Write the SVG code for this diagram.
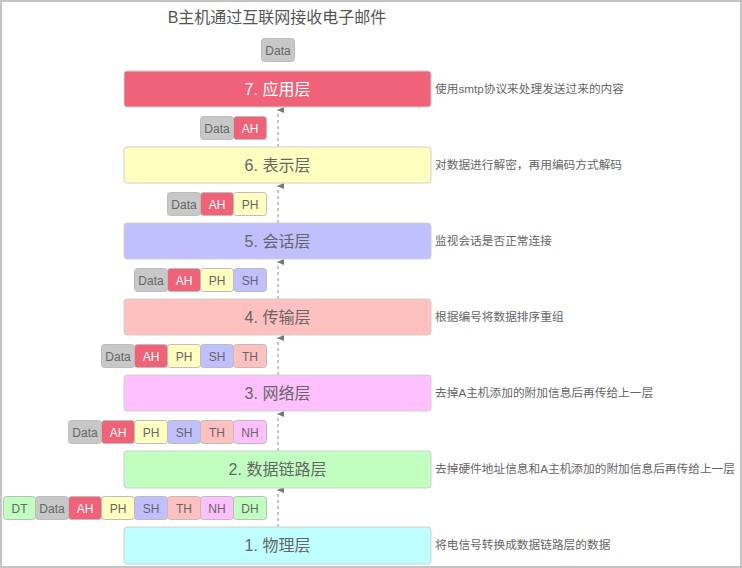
<svg xmlns="http://www.w3.org/2000/svg" width="742" height="568" viewBox="0 0 742 568">
<defs>
<marker id="ah" markerWidth="6" markerHeight="7" refX="3" refY="1" orient="auto-start-reverse" markerUnits="userSpaceOnUse" viewBox="0 0 6 7">
<path d="M0,7 L3,0 L6,7 Z" fill="#777"/>
</marker>
<style>
text{font-family:"Liberation Sans","Noto Sans CJK SC",sans-serif;}
.title{font-size:16px;fill:#555;text-anchor:middle;}
.layer{stroke:#cfcfcf;stroke-width:1;}
.lt{font-size:16px;fill:#666;text-anchor:middle;}
.lw{fill:#fff;}
.desc{font-size:11.7px;fill:#666;}
.chip{stroke:#bdbdbd;stroke-width:1;}
.ct{font-size:12px;fill:#666;text-anchor:middle;}
.cw{fill:#fff;}
.conn{stroke:#888;stroke-width:1;stroke-dasharray:3,3;fill:none;}
.gray{fill:#c8c8c8;}
.red{fill:#f06278;}
.yel{fill:#ffffc0;}
.blu{fill:#c0c0ff;}
.pnk{fill:#ffc0c0;}
.mag{fill:#ffc0ff;}
.grn{fill:#c0ffc0;}
.cyn{fill:#c0ffff;}
</style>
</defs>
<rect x="1" y="1" width="740" height="566" fill="#fff" stroke="#c4c4c4" stroke-width="2"/>
<text class="title" x="277" y="23">B主机通过互联网接收电子邮件</text>

<g id="connectors">
<line class="conn" x1="278" y1="147" x2="278" y2="110" marker-end="url(#ah)"/>
<line class="conn" x1="278" y1="223" x2="278" y2="186" marker-end="url(#ah)"/>
<line class="conn" x1="278" y1="299" x2="278" y2="262" marker-end="url(#ah)"/>
<line class="conn" x1="278" y1="375" x2="278" y2="338" marker-end="url(#ah)"/>
<line class="conn" x1="278" y1="451" x2="278" y2="414" marker-end="url(#ah)"/>
<line class="conn" x1="278" y1="527" x2="278" y2="490" marker-end="url(#ah)"/>
</g>

<g id="layer7">
<rect class="layer red" x="124" y="71" width="307" height="36" rx="3"/>
<text class="lt lw" x="277.5" y="95">7. 应用层</text>
<text class="desc" x="435" y="93">使用smtp协议来处理发送过来的内容</text>
</g>
<g id="layer6">
<rect class="layer yel" x="124" y="147" width="307" height="36" rx="3"/>
<text class="lt" x="277.5" y="171">6. 表示层</text>
<text class="desc" x="435" y="169">对数据进行解密，再用编码方式解码</text>
</g>
<g id="layer5">
<rect class="layer blu" x="124" y="223" width="307" height="36" rx="3"/>
<text class="lt" x="277.5" y="247">5. 会话层</text>
<text class="desc" x="435" y="245">监视会话是否正常连接</text>
</g>
<g id="layer4">
<rect class="layer pnk" x="124" y="299" width="307" height="36" rx="3"/>
<text class="lt" x="277.5" y="323">4. 传输层</text>
<text class="desc" x="435" y="321">根据编号将数据排序重组</text>
</g>
<g id="layer3">
<rect class="layer mag" x="124" y="375" width="307" height="36" rx="3"/>
<text class="lt" x="277.5" y="399">3. 网络层</text>
<text class="desc" x="435" y="397">去掉A主机添加的附加信息后再传给上一层</text>
</g>
<g id="layer2">
<rect class="layer grn" x="124" y="451" width="307" height="37" rx="3"/>
<text class="lt" x="277.5" y="475">2. 数据链路层</text>
<text class="desc" x="435" y="473">去掉硬件地址信息和A主机添加的附加信息后再传给上一层</text>
</g>
<g id="layer1">
<rect class="layer cyn" x="124" y="527" width="307" height="37" rx="3"/>
<text class="lt" x="277.5" y="551">1. 物理层</text>
<text class="desc" x="435" y="549">将电信号转换成数据链路层的数据</text>
</g>

<g id="packet7">
<rect class="chip gray" x="261.5" y="38.5" width="33" height="23" rx="3"/>
<text class="ct" x="278" y="54.5">Data</text>
</g>
<g id="packet6">
<rect class="chip gray" x="200.5" y="116.5" width="33" height="23" rx="3"/>
<text class="ct" x="217" y="132.5">Data</text>
<rect class="chip red" x="233.5" y="116.5" width="33" height="23" rx="3"/>
<text class="ct cw" x="250" y="132.5">AH</text>
</g>
<g id="packet5">
<rect class="chip gray" x="167.5" y="192.5" width="33" height="23" rx="3"/>
<text class="ct" x="184" y="208.5">Data</text>
<rect class="chip red" x="200.5" y="192.5" width="33" height="23" rx="3"/>
<text class="ct cw" x="217" y="208.5">AH</text>
<rect class="chip yel" x="233.5" y="192.5" width="33" height="23" rx="3"/>
<text class="ct" x="250" y="208.5">PH</text>
</g>
<g id="packet4">
<rect class="chip gray" x="134.5" y="268.5" width="33" height="23" rx="3"/>
<text class="ct" x="151" y="284.5">Data</text>
<rect class="chip red" x="167.5" y="268.5" width="33" height="23" rx="3"/>
<text class="ct cw" x="184" y="284.5">AH</text>
<rect class="chip yel" x="200.5" y="268.5" width="33" height="23" rx="3"/>
<text class="ct" x="217" y="284.5">PH</text>
<rect class="chip blu" x="233.5" y="268.5" width="33" height="23" rx="3"/>
<text class="ct" x="250" y="284.5">SH</text>
</g>
<g id="packet3">
<rect class="chip gray" x="101.5" y="344.5" width="33" height="23" rx="3"/>
<text class="ct" x="118" y="360.5">Data</text>
<rect class="chip red" x="134.5" y="344.5" width="33" height="23" rx="3"/>
<text class="ct cw" x="151" y="360.5">AH</text>
<rect class="chip yel" x="167.5" y="344.5" width="33" height="23" rx="3"/>
<text class="ct" x="184" y="360.5">PH</text>
<rect class="chip blu" x="200.5" y="344.5" width="33" height="23" rx="3"/>
<text class="ct" x="217" y="360.5">SH</text>
<rect class="chip pnk" x="233.5" y="344.5" width="33" height="23" rx="3"/>
<text class="ct" x="250" y="360.5">TH</text>
</g>
<g id="packet2">
<rect class="chip gray" x="68.5" y="420.5" width="33" height="23" rx="3"/>
<text class="ct" x="85" y="436.5">Data</text>
<rect class="chip red" x="101.5" y="420.5" width="33" height="23" rx="3"/>
<text class="ct cw" x="118" y="436.5">AH</text>
<rect class="chip yel" x="134.5" y="420.5" width="33" height="23" rx="3"/>
<text class="ct" x="151" y="436.5">PH</text>
<rect class="chip blu" x="167.5" y="420.5" width="33" height="23" rx="3"/>
<text class="ct" x="184" y="436.5">SH</text>
<rect class="chip pnk" x="200.5" y="420.5" width="33" height="23" rx="3"/>
<text class="ct" x="217" y="436.5">TH</text>
<rect class="chip mag" x="233.5" y="420.5" width="33" height="23" rx="3"/>
<text class="ct" x="250" y="436.5">NH</text>
</g>
<g id="packet1">
<rect class="chip grn" x="3.5" y="496.5" width="32" height="23" rx="3"/>
<text class="ct" x="19.5" y="512.5">DT</text>
<rect class="chip gray" x="35.5" y="496.5" width="33" height="23" rx="3"/>
<text class="ct" x="52" y="512.5">Data</text>
<rect class="chip red" x="68.5" y="496.5" width="33" height="23" rx="3"/>
<text class="ct cw" x="85" y="512.5">AH</text>
<rect class="chip yel" x="101.5" y="496.5" width="33" height="23" rx="3"/>
<text class="ct" x="118" y="512.5">PH</text>
<rect class="chip blu" x="134.5" y="496.5" width="33" height="23" rx="3"/>
<text class="ct" x="151" y="512.5">SH</text>
<rect class="chip pnk" x="167.5" y="496.5" width="33" height="23" rx="3"/>
<text class="ct" x="184" y="512.5">TH</text>
<rect class="chip mag" x="200.5" y="496.5" width="33" height="23" rx="3"/>
<text class="ct" x="217" y="512.5">NH</text>
<rect class="chip grn" x="233.5" y="496.5" width="33" height="23" rx="3"/>
<text class="ct" x="250" y="512.5">DH</text>
</g>
</svg>
